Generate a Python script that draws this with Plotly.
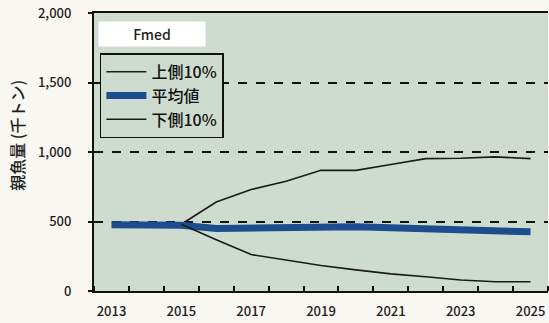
import plotly.graph_objects as go

# Projected spawning stock biomass under Fmed (thousand tonnes)
years = list(range(2013, 2026))
upper_10 = [None, None, 480, 640, 730, 790, 868, 868, 910, 952, 955, 965, 952]
mean_val = [476, 476, 473, 450, 452, 458, 465, 462, 455, 448, 440, 435, 426]
lower_10 = [None, None, 480, 368, 262, 224, 183, 152, 123, 103, 79, 67, 67]

x_tick_years = [2013, 2015, 2017, 2019, 2021, 2023, 2025]
y_ticks = [0, 500, 1000, 1500, 2000]
y_tick_text = ["0", "500", "1,000", "1,500", "2,000"]

names = ["上側10%", "平均値", "下側10%"]
title_text = "Fmed"
y_title = "親魚量 (千トン)"

FONT = "Noto Sans CJK JP"
PLOT_BG = "#cedcd0"
PAPER_BG = "#f8f7f2"
BLUE = "#1d4d8e"
INK = "#1e1e1e"

fig = go.Figure()
fig.add_trace(go.Scatter(x=years, y=upper_10, name=names[0], mode="lines",
                         line=dict(color="#1a1a1a", width=1.6)))
fig.add_trace(go.Scatter(x=years, y=mean_val, name=names[1], mode="lines",
                         line=dict(color=BLUE, width=7)))
fig.add_trace(go.Scatter(x=years, y=lower_10, name=names[2], mode="lines",
                         line=dict(color="#1a1a1a", width=1.6)))

# Panel label box
fig.add_annotation(text=title_text, xref="paper", yref="paper",
                   x=0.009, y=0.97, xanchor="left", yanchor="top",
                   width=104, height=22, bgcolor="white", showarrow=False,
                   font=dict(family=FONT, size=14, color=INK, weight=500))

# Vertical y-axis caption
fig.add_annotation(text=y_title, xref="paper", yref="paper",
                   x=-0.17, y=0.561, xanchor="center", yanchor="middle",
                   textangle=-90, showarrow=False,
                   font=dict(family=FONT, size=16, color=INK, weight=500))

fig.update_layout(
    width=549, height=323,
    margin=dict(l=94, r=1, t=13, b=32),
    paper_bgcolor=PAPER_BG, plot_bgcolor=PLOT_BG,
    font=dict(family=FONT, color=INK),
    showlegend=True,
    legend=dict(x=0.013, y=0.855, xanchor="left", yanchor="top",
                bgcolor=PLOT_BG, bordercolor="#111", borderwidth=1.5,
                font=dict(family=FONT, size=16, color="#111", weight=500),
                tracegroupgap=0, itemwidth=40),
    xaxis=dict(range=[2012.5, 2025.5], tickmode="array", tickvals=x_tick_years,
               ticks="", showgrid=False, zeroline=False,
               showline=True, linecolor="#111", linewidth=2, mirror=True,
               tickfont=dict(family=FONT, size=13, color=INK, weight=500),
               ticklabelstandoff=7,
               minor=dict(tick0=2013.5, dtick=1, ticks="inside", ticklen=5,
                          tickcolor="#111", tickwidth=1.5, showgrid=False)),
    yaxis=dict(range=[0, 2000], tickmode="array", tickvals=y_ticks,
               ticktext=y_tick_text, ticks="outside", ticklen=4,
               tickcolor="#111", tickwidth=1.5,
               showline=True, linecolor="#111", linewidth=2,
               showgrid=True, gridcolor="#111", gridwidth=1.5, griddash="dash",
               zeroline=False, ticklabelstandoff=14,
               tickfont=dict(family=FONT, size=13, color=INK, weight=500)),
)

fig.write_html("out.html")
